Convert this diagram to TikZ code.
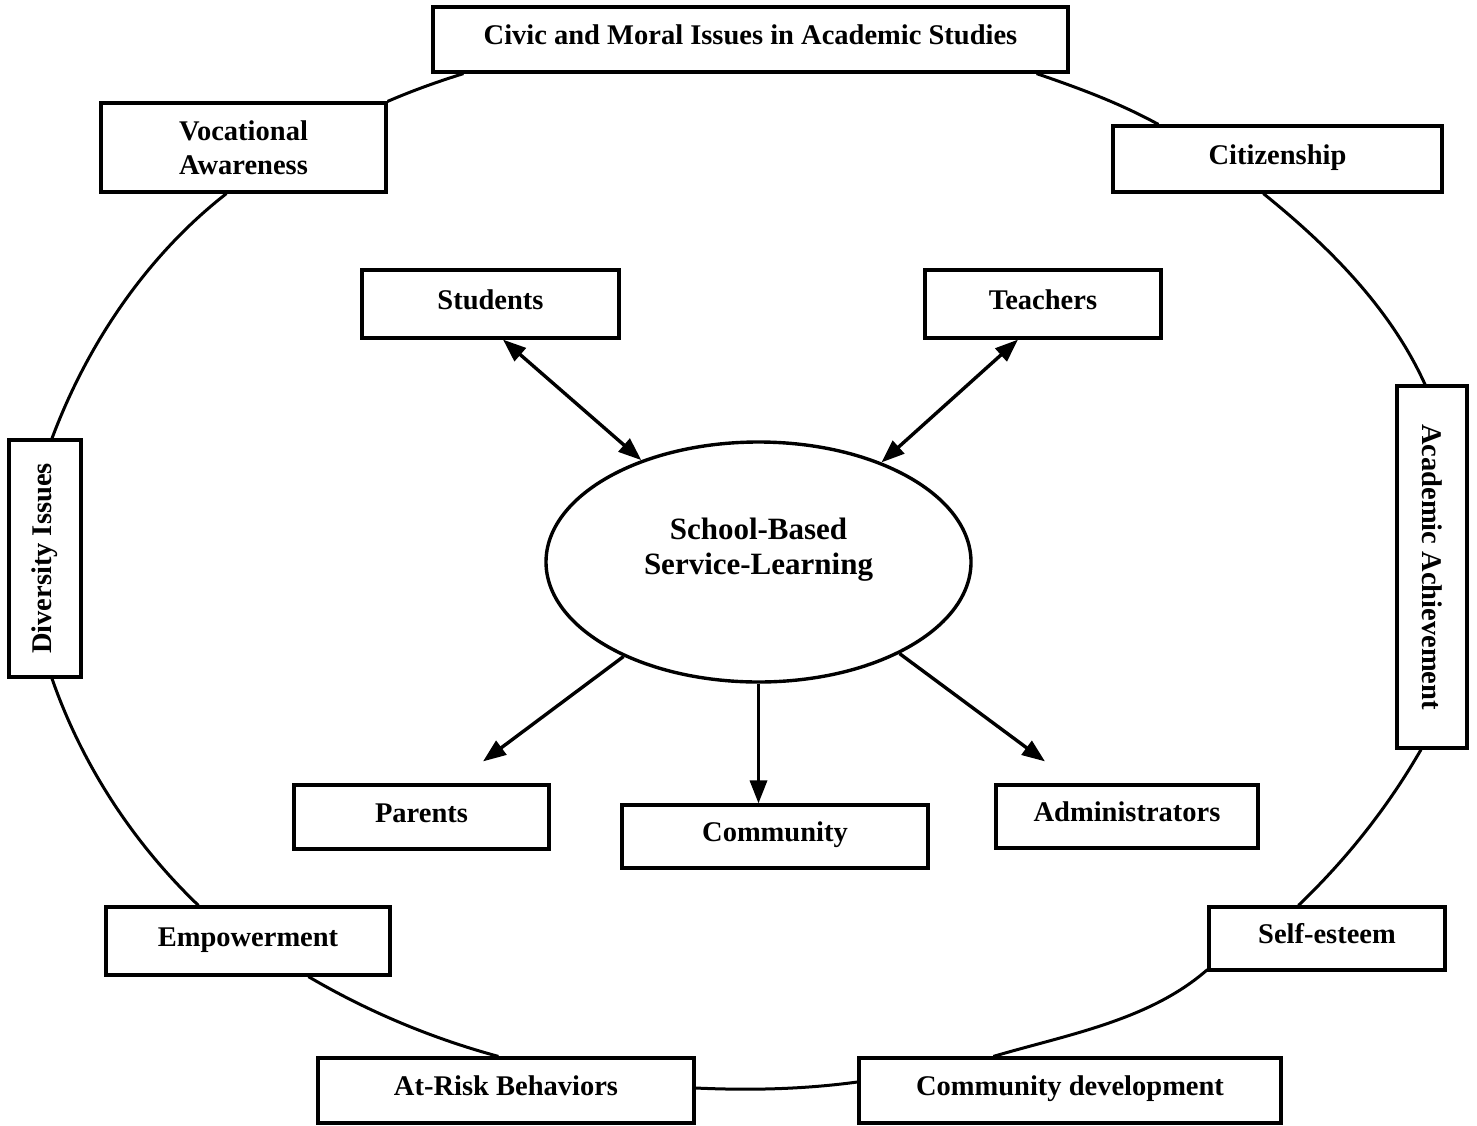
\documentclass[tikz,border=0pt]{standalone}
\usepackage{fontspec}
\setmainfont{Liberation Serif}
\usetikzlibrary{arrows.meta,shapes.geometric}
\begin{document}
\begin{tikzpicture}[x=1pt,y=-1pt,
  box/.style={draw, line width=3.2pt, fill=white, inner sep=0pt,
    font=\bfseries\fontsize{28.5pt}{34pt}\selectfont},
  one/.style={text height=21pt, text depth=11pt},
  ring/.style={line width=3pt},
  arr/.style={line width=3.4pt, -{Triangle[length=23pt,width=17pt]}},
  darr/.style={line width=3.4pt, {Triangle[length=23pt,width=17pt]}-{Triangle[length=23pt,width=17pt]}}]
\useasboundingbox (0,0) rectangle (1477,1125);
\fill[white] (0,0) rectangle (1477,1125);

% outer boxes
\node[box,one,minimum width=635pt,minimum height=65pt] (civic) at (750.5,39.5) {Civic and Moral Issues in Academic Studies};
\node[box,align=center,minimum width=285pt,minimum height=89pt] (voc) at (243.5,147.5) {Vocational\\Awareness};
\node[box,one,minimum width=329pt,minimum height=66pt] (cit) at (1277.5,159) {Citizenship};
\node[box,minimum width=72pt,minimum height=237pt] (div) at (45,558.5) {\rotatebox{90}{Diversity Issues}};
\node[box,minimum width=70pt,minimum height=362pt] (aca) at (1432,567) {\rotatebox{-90}{Academic Achievement}};
\node[box,one,minimum width=284pt,minimum height=68pt] (emp) at (248,941) {Empowerment};
\node[box,one,minimum width=236pt,minimum height=63pt] (self) at (1327,938.5) {Self-esteem};
\node[box,one,minimum width=376pt,minimum height=65pt] (risk) at (506,1090.5) {At-Risk Behaviors};
\node[box,one,minimum width=422pt,minimum height=65pt] (cdev) at (1070,1090.5) {Community development};

% inner boxes
\node[box,one,minimum width=257pt,minimum height=68pt] (stu) at (490.5,304) {Students};
\node[box,one,minimum width=236pt,minimum height=68pt] (tea) at (1043,304) {Teachers};
\node[box,one,minimum width=255pt,minimum height=64pt] (par) at (421.5,817) {Parents};
\node[box,one,minimum width=306pt,minimum height=63pt] (com) at (775,836.5) {Community};
\node[box,one,minimum width=262pt,minimum height=63pt] (adm) at (1127,816.5) {Administrators};

% centre ellipse
\node[ellipse, draw, line width=3.4pt, minimum width=425pt, minimum height=240pt, inner sep=0pt,
  font=\bfseries\fontsize{31pt}{35pt}\selectfont] (ss) at (758.5,562)
  {\raisebox{12pt}[\height][\depth]{\begin{tabular}{@{}c@{}}School-Based\\Service-Learning\end{tabular}}};

% ring connectors
\draw[ring] ([xshift=32pt]civic.south west) .. controls +(-26.7,8.4) and +(25.7,-11.1) .. (voc.north east);
\draw[ring] ([xshift=127pt]voc.south west) .. controls +(-79.6,62.1) and +(35.4,-94.6) .. ([xshift=7pt]div.north);
\draw[ring] ([xshift=7pt]div.south) .. controls +(30,86) and +(-65.5,-62.8) .. ([xshift=94pt]emp.north west);
\draw[ring] ([xshift=204pt]emp.south west) .. controls +(59.5,35) and +(-66.6,-18.1) .. ([xshift=182pt]risk.north west);
\draw[ring] ([yshift=2.5pt]risk.east) .. controls +(55,2.5) and +(-54.5,7.3) .. ([yshift=8.5pt]cdev.west);
\draw[ring] ([xshift=136pt]cdev.north west) .. controls +(73.8,-21.8) and +(-57.8,50.8) .. ([yshift=2pt]self.south west);
\draw[ring] ([xshift=91pt]self.north west) .. controls +(48.2,-46.2) and +(-33.5,58) .. ([xshift=-11pt]aca.south);
\draw[ring] ([xshift=-7pt]aca.north) .. controls +(-34.7,-76.5) and +(65.4,52.8) .. ([xshift=152pt]cit.south west);
\draw[ring] ([xshift=47pt]cit.north west) .. controls +(-39.5,-21.6) and +(42.6,14.6) .. ([xshift=-33pt]civic.south east);

% arrows
\draw[darr] ([xshift=12.5pt]stu.south) -- (ss.139);
\draw[darr] ([xshift=-25pt]tea.south) -- (ss.39);
\draw[arr] (ss.215) -- ([xshift=61.5pt,yshift=22pt]par.north);
\draw[arr] (ss.south) -- (ss.south |- com.north);
\draw[arr] (ss.327) -- ([xshift=-82pt,yshift=22pt]adm.north);
\end{tikzpicture}
\end{document}
